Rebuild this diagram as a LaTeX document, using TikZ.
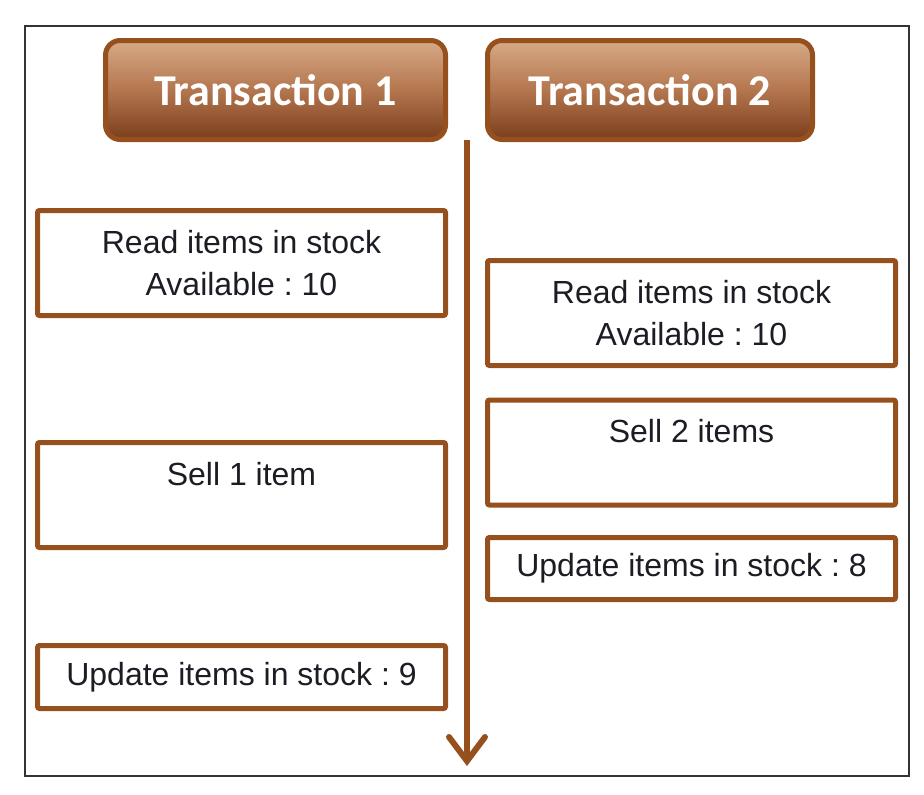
\documentclass[tikz,border=0pt]{standalone}
\usepackage{fontspec}
\setmainfont{Liberation Sans}
\newfontfamily\headfont{Carlito}
\usepackage{tikz}
\usetikzlibrary{arrows.meta}
\usepackage{xcolor}
\definecolor{brownline}{RGB}{150,80,30}
\definecolor{headtop}{RGB}{214,170,134}
\definecolor{headmid}{RGB}{180,118,78}
\definecolor{headbot}{RGB}{122,62,28}
\definecolor{framegray}{RGB}{51,51,51}
\definecolor{textdark}{RGB}{28,28,36}
\frenchspacing

\begin{document}
\begin{tikzpicture}[x=0.75pt,y=-0.75pt,
  header/.style={draw=brownline, line width=3.75pt, rounded corners=11pt,
    top color=headtop, bottom color=headbot, middle color=headmid,
    minimum height=74.25pt, text=white,
    font=\headfont\bfseries\fontsize{33}{38}\selectfont},
  stepbox/.style={draw=brownline, line width=3.75pt, rounded corners=1.5pt,
    fill=white, minimum width=306pt, minimum height=78.75pt, align=center,
    text=textdark, font=\fontsize{24}{32}\selectfont},
  updatebox/.style={stepbox, minimum height=47.25pt}]
  \useasboundingbox (0,0) rectangle (924,794);

  % Frame
  \draw[framegray, line width=1.9pt] (25,26) rectangle (909,776);

  % Headers
  \node[header, minimum width=255pt] (head1) at (275.5,90) {Transaction 1};
  \node[header, minimum width=243.75pt] (head2) at (650,90) {Transaction 2};

  % Time line
  \coordinate (timetop) at (467,140);
  \coordinate (timeend) at (467,766);
  \draw[brownline, line width=4.5pt,
    -{Straight Barb[length=18pt,width=27pt,line cap=round]}] (timetop) -- (timeend);

  % Transaction 1
  \node[stepbox] (read1) at (241.5,263) {Read items in stock\\Available : 10};
  \node[stepbox] (sell1) at (241.5,495) {Sell 1 item\\~};
  \node[updatebox] (upd1) at (241.5,677) {Update items in stock : 9};

  % Transaction 2
  \node[stepbox] (read2) at (691.5,313) {Read items in stock\\Available : 10};
  \node[stepbox] (sell2) at (691.5,452.5) {Sell 2 items\\~};
  \node[updatebox, minimum height=46.5pt] (upd2) at (691.5,568.5) {Update items in stock : 8};
\end{tikzpicture}
\end{document}
